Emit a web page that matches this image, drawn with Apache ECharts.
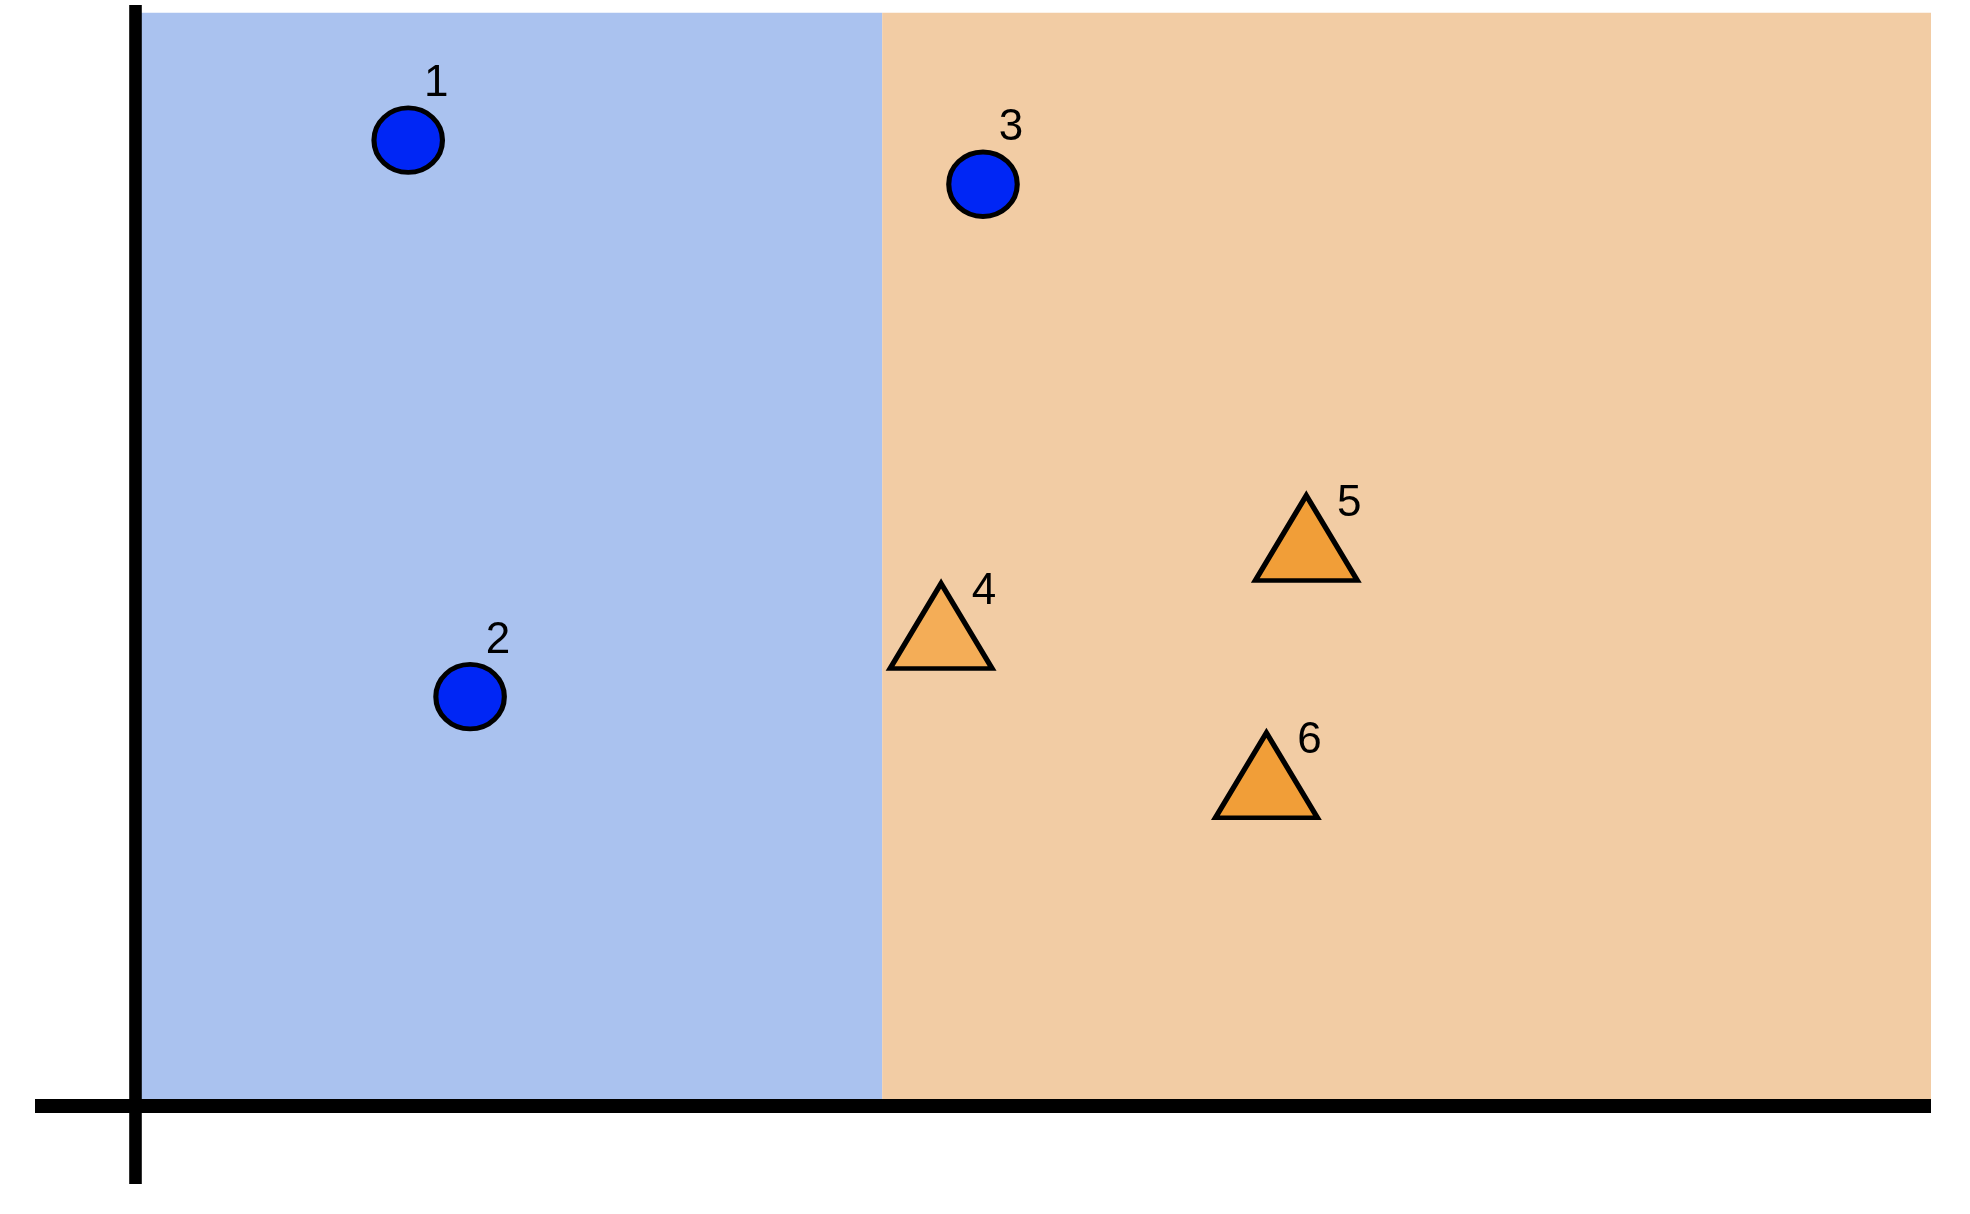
<!DOCTYPE html>
<html>
<head>
<meta charset="utf-8">
<script src="https://cdn.jsdelivr.net/npm/echarts@6/dist/echarts.min.js"></script>
<style>
  html, body { margin: 0; padding: 0; background: #ffffff; }
  #chart { width: 1970px; height: 1214px; }
</style>
</head>
<body>
<div id="chart"></div>
<script>
// ---- data ----
const circleIds = ['1', '2', '3'];
const circleX   = [1.37, 1.68, 4.25];
const circleY   = [6.14, 2.60, 5.86];

const triangleIds = ['4', '5', '6'];
const triangleX   = [4.04, 5.87, 5.67];
const triangleY   = [3.05, 3.61, 2.10];

// region boundaries along x (blue | orange) and the top of the shaded area
const regionBreaks = [0, 3.745, 9];
const regionTop = 6.95;

// axis extents
const xRange = [-0.5, 9];
const yRange = [-0.5, 7];

// ---- build chart ----
const circleData = circleIds.map((id, i) => ({ name: id, value: [circleX[i], circleY[i]] }));
const triangleColors = { '4': '#F4AD57', '5': '#F19E38', '6': '#F19E38' };
const triangleData = triangleIds.map((id, i) => ({
  name: id,
  value: [triangleX[i], triangleY[i]],
  itemStyle: { color: triangleColors[id] }
}));

const labelFont = {
  show: true,
  formatter: p => p.name,
  color: '#000',
  fontSize: 44,
  fontFamily: 'Liberation Sans, Arial, sans-serif',
  position: 'inside'
};

const chart = echarts.init(document.getElementById('chart'), null, { renderer: 'canvas' });
chart.setOption({
  animation: false,
  backgroundColor: '#ffffff',
  grid: { left: 35, right: 39, top: 5, bottom: 30, containLabel: false },
  xAxis: {
    type: 'value', min: xRange[0], max: xRange[1], z: 10,
    axisLine: { show: true, onZero: true, lineStyle: { color: '#000', width: 14, cap: 'butt' } },
    axisTick: { show: false }, axisLabel: { show: false }, splitLine: { show: false }
  },
  yAxis: {
    type: 'value', min: yRange[0], max: yRange[1], z: 10,
    axisLine: { show: true, onZero: true, lineStyle: { color: '#000', width: 12.6, cap: 'butt' } },
    axisTick: { show: false }, axisLabel: { show: false }, splitLine: { show: false }
  },
  series: [
    {
      type: 'scatter',
      name: 'regions',
      data: [],
      silent: true,
      z: 1,
      markArea: {
        silent: true,
        data: [
          [{ xAxis: regionBreaks[0], yAxis: 0, itemStyle: { color: '#AAC2EF', opacity: 1 } },
           { xAxis: regionBreaks[1], yAxis: regionTop }],
          [{ xAxis: regionBreaks[1], yAxis: 0, itemStyle: { color: '#F2CCA4', opacity: 1 } },
           { xAxis: regionBreaks[2], yAxis: regionTop }]
        ]
      }
    },
    {
      type: 'scatter',
      name: 'circles',
      z: 5,
      symbol: 'path://M0,50A50,50,0,1,1,100,50A50,50,0,1,1,0,50Z',
      symbolSize: [68.5, 64.5],
      itemStyle: { color: '#0026F5', borderColor: '#000', borderWidth: 5, opacity: 1 },
      label: Object.assign({}, labelFont, { offset: [28, -56] }),
      data: circleData
    },
    {
      type: 'scatter',
      name: 'triangles',
      z: 5,
      symbol: 'triangle',
      symbolSize: [102, 85],
      itemStyle: { borderColor: '#000', borderWidth: 5, borderJoin: 'miter', borderMiterLimit: 10, opacity: 1 },
      label: Object.assign({}, labelFont, { offset: [43, -34] }),
      data: triangleData
    }
  ]
});
</script>
</body>
</html>
